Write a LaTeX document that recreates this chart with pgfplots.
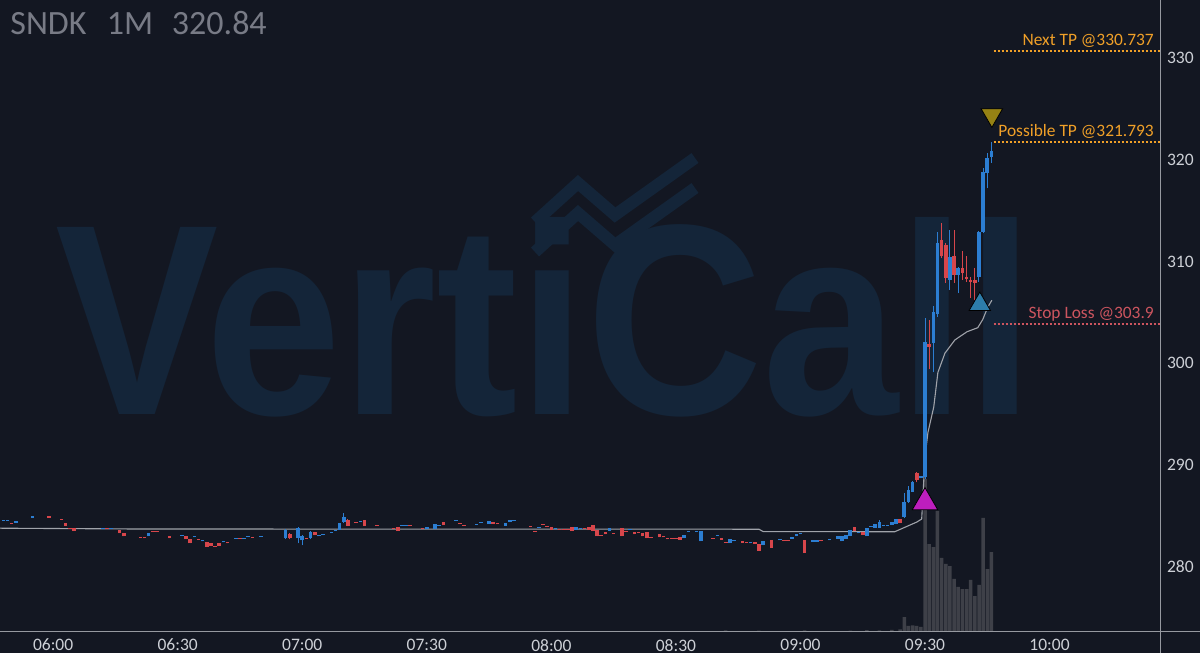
\documentclass[border=0pt]{standalone}
\usepackage{fontspec}
\setmainfont{Carlito}
\newfontfamily\wmfont{Liberation Sans}
\usepackage{pgfplots}
\usepackage{pgfplotstable}
\pgfplotsset{compat=1.18}

\definecolor{bgcol}{RGB}{19,23,34}
\definecolor{wmcol}{RGB}{20,37,57}
\definecolor{upcol}{RGB}{44,126,210}
\definecolor{dncol}{RGB}{215,70,75}
\definecolor{volcol}{RGB}{62,64,72}
\definecolor{vwapcol}{RGB}{160,163,170}
\definecolor{axcol}{RGB}{150,153,160}
\definecolor{labcol}{RGB}{205,208,214}
\definecolor{titlecol}{RGB}{120,123,134}
\definecolor{tpcol}{RGB}{240,160,40}
\definecolor{slcol}{RGB}{205,85,95}
\definecolor{buycol}{RGB}{190,30,190}
\definecolor{tricol}{RGB}{45,125,170}
\definecolor{sellcol}{RGB}{150,130,20}

% minutes after 06:00, open, high, low, close
\pgfplotstableread{
t o h l c
-12 284.55 284.65 284.55 284.65
-11 284.55 284.65 284.55 284.65
-9 284.35 284.50 284.35 284.50
-5 284.80 285.00 284.80 285.00
12 283.75 283.85 283.75 283.85
14 283.75 283.85 283.75 283.85
23 283.00 283.30 283.00 283.30
31 283.05 283.15 283.05 283.15
34 282.90 283.00 282.90 283.00
36 282.50 282.60 282.50 282.60
41 282.40 282.50 282.40 282.50
44 282.75 282.85 282.75 282.85
46 282.75 282.85 282.75 282.85
47 282.95 283.05 282.95 283.05
50 282.95 283.05 282.95 283.05
56 282.80 283.70 282.70 283.60
59 282.80 283.90 282.30 283.80
60 282.60 283.10 282.10 283.00
62 282.80 283.50 282.70 283.40
64 283.00 283.10 283.00 283.10
65 283.10 283.20 283.10 283.20
67 283.35 283.45 283.35 283.45
68 283.55 283.65 283.55 283.65
69 283.60 284.30 283.60 284.30
70 284.40 285.30 284.30 284.90
74 284.45 284.55 284.45 284.55
84 284.05 284.15 284.05 284.15
85 284.05 284.15 284.05 284.15
90 283.70 283.90 283.70 283.90
92 283.70 284.20 283.70 284.20
93 284.05 284.15 284.05 284.15
97 284.55 284.65 284.55 284.65
102 284.15 284.25 284.15 284.25
103 284.35 284.45 284.35 284.45
105 284.20 284.50 284.20 284.50
109 284.00 284.30 284.00 284.30
110 284.40 284.60 284.40 284.60
111 284.55 284.65 284.55 284.65
117 283.85 283.95 283.85 283.95
121 283.75 283.85 283.75 283.85
126 283.60 283.90 283.60 283.90
127 283.75 283.85 283.75 283.85
134 283.50 283.80 283.50 283.80
139 283.65 283.75 283.65 283.75
152 282.80 283.10 282.80 283.10
153 283.45 283.55 283.45 283.55
155 283.45 283.55 283.45 283.55
156 282.50 283.50 282.50 283.50
160 283.05 283.15 283.05 283.15
163 282.30 282.70 282.30 282.70
164 282.50 282.60 282.50 282.60
168 282.30 282.40 282.30 282.40
171 282.10 282.50 282.10 282.50
175 282.60 282.70 282.60 282.70
178 282.75 282.95 282.75 282.95
179 283.00 283.25 283.00 283.25
180 283.20 283.30 283.20 283.30
183 282.45 282.65 282.45 282.65
184 282.45 282.65 282.45 282.65
187 282.60 282.70 282.60 282.70
189 282.75 283.00 282.75 283.00
190 282.50 283.00 282.50 283.00
191 282.75 283.10 282.75 283.10
192 283.00 283.60 283.00 283.60
194 283.30 283.40 283.30 283.40
196 283.00 283.80 283.00 283.80
197 283.90 284.00 283.90 284.00
198 283.85 284.20 283.85 284.20
199 283.85 284.60 283.80 284.40
200 284.00 284.10 284.00 284.10
201 284.00 284.10 284.00 284.10
202 284.10 284.40 284.10 284.40
203 284.20 284.70 284.20 284.70
205 284.90 287.30 284.80 286.40
206 286.40 287.90 286.30 287.60
207 287.40 288.40 287.40 288.30
209 288.70 288.90 288.70 288.90
210 288.80 304.50 288.60 302.10
212 302.00 305.60 299.10 305.00
213 304.80 312.90 304.60 311.80
216 308.20 313.10 307.20 310.40
218 308.70 309.50 306.90 309.40
223 308.50 313.00 308.00 312.90
224 312.90 319.20 312.80 318.80
225 318.70 320.70 317.20 320.20
226 320.30 321.79 319.70 320.84
}\upcandles

\pgfplotstableread{
t o h l c
-10 284.35 284.35 284.25 284.25
-1 284.95 284.95 284.85 284.85
2 284.75 284.75 284.65 284.65
3 284.30 284.30 284.00 284.00
4 283.85 283.85 283.75 283.75
5 283.80 283.80 283.50 283.50
13 283.85 283.85 283.75 283.75
16 283.60 283.60 283.30 283.30
17 283.30 283.30 283.00 283.00
21 282.95 282.95 282.85 282.85
22 282.95 282.95 282.80 282.80
24 283.55 283.55 283.45 283.45
25 283.55 283.55 283.45 283.45
28 283.00 283.00 282.80 282.80
32 283.00 283.00 282.70 282.70
33 282.70 282.70 282.30 282.30
35 282.75 282.75 282.65 282.65
37 282.40 282.40 282.00 282.00
38 282.35 282.35 282.05 282.05
39 282.05 282.05 281.95 281.95
40 282.35 282.35 282.05 282.05
42 282.40 282.40 282.30 282.30
45 282.85 282.85 282.75 282.75
48 282.95 282.95 282.85 282.85
57 283.20 283.30 282.70 282.80
61 282.85 282.85 282.75 282.75
63 283.40 283.40 283.10 283.10
71 284.60 284.70 284.00 284.00
73 284.45 284.45 284.35 284.35
75 284.60 284.60 284.00 284.00
78 284.15 284.15 284.05 284.05
82 283.85 283.85 283.75 283.75
83 283.90 283.90 283.55 283.55
86 284.15 284.15 284.05 284.05
89 283.85 283.85 283.75 283.75
94 284.40 284.40 284.10 284.10
98 284.35 284.35 284.25 284.25
99 284.15 284.15 284.05 284.05
106 284.40 284.40 284.20 284.20
107 284.35 284.35 284.25 284.25
115 284.05 284.05 283.95 283.95
116 283.55 283.55 283.45 283.45
118 284.25 284.25 284.15 284.15
119 284.05 284.05 283.95 283.95
120 283.90 283.90 283.60 283.60
122 283.75 283.75 283.65 283.65
123 283.75 283.75 283.65 283.65
124 283.75 283.75 283.65 283.65
125 283.90 283.90 283.50 283.50
128 283.80 283.80 283.70 283.70
129 283.90 283.90 283.60 283.60
130 284.10 284.10 283.50 283.50
131 283.60 283.60 283.00 283.00
132 283.15 283.15 283.05 283.05
133 283.40 283.40 283.20 283.20
135 283.35 283.35 283.25 283.25
137 283.80 283.80 283.00 283.00
138 283.55 283.55 283.45 283.45
140 283.40 283.40 283.20 283.20
141 283.45 283.45 283.35 283.35
142 283.30 283.30 283.00 283.00
143 283.40 283.40 282.80 282.80
144 282.90 282.90 282.80 282.80
146 283.20 283.20 282.90 282.90
147 283.00 283.00 282.90 282.90
148 282.80 282.80 282.70 282.70
149 282.85 282.85 282.75 282.75
150 282.85 282.85 282.75 282.75
151 282.95 282.95 282.65 282.65
159 282.85 282.85 282.75 282.75
161 282.85 282.85 282.65 282.65
162 282.45 282.45 282.35 282.35
166 282.55 282.55 282.35 282.35
167 282.45 282.45 282.35 282.35
169 282.45 282.45 282.25 282.25
170 282.20 282.20 281.60 281.60
173 282.60 282.60 281.90 281.90
176 282.65 282.65 282.55 282.55
177 282.65 282.65 282.55 282.55
181 282.60 282.60 281.40 281.40
185 282.60 282.60 282.50 282.50
193 283.90 283.90 283.50 283.50
195 283.40 283.40 283.15 283.15
204 284.70 284.70 284.30 284.30
208 289.20 289.30 288.30 288.50
211 301.90 304.30 299.40 301.60
214 312.10 313.80 310.30 310.50
215 311.60 311.80 307.90 308.40
217 310.50 313.10 307.90 308.70
219 309.40 311.00 308.20 308.90
220 308.50 310.50 308.00 308.30
221 308.20 308.50 306.40 308.00
222 308.20 309.40 306.20 307.90
}\downcandles

\pgfplotsset{
  candle/.style 2 args={draw=none, mark=none,
    error bars/.cd, y dir=plus, y explicit, error mark=none,
    error bar style={draw=#1, line width=#2}},
}

\begin{document}
\begin{tikzpicture}
\useasboundingbox (0,-10.5pt) rectangle (600pt,316pt);
\fill[bgcol] (0,-10.5pt) rectangle (600pt,316pt);

% watermark
\node[anchor=base west, inner sep=0, text=wmcol, xscale=0.9,
  font=\wmfont\bfseries\fontsize{136}{136}\selectfont] at (27.5pt,108.5pt) {VertiCall};
\draw[wmcol, line width=6pt] (267.5pt,205pt) -- (289pt,224.5pt) -- (307.5pt,208.5pt) -- (347.5pt,237pt);
\draw[wmcol, line width=6pt] (267.5pt,190pt) -- (289pt,209.5pt) -- (307.5pt,193.5pt) -- (347.5pt,222pt);

% volume
\begin{axis}[
  at={(0,0)}, anchor=south west,
  scale only axis, width=580pt, height=316pt,
  xmin=-12.8, xmax=266.6, ymin=0, ymax=250,
  hide axis,
]
\addplot[ybar, bar width=1.75pt, bar shift=0pt, fill=volcol, draw=none] coordinates {
  (162,0.6) (170,0.5) (181,0.6) (192,0.5) (196,0.7) (199,0.6) (202,0.8)
  (204,1.0) (205,5.9) (206,2.4) (207,2.6) (208,2.4) (209,2.0)
  (210,60.5) (211,34.8) (212,33.6) (213,47.9) (214,29.3) (215,26.9)
  (216,26.1) (217,21.0) (218,17.8) (219,17.0) (220,17.0) (221,20.6)
  (222,14.2) (223,18.6) (224,45.1) (225,24.9) (226,31.6)
};
\end{axis}

% price
\begin{axis}[
  at={(0,0)}, anchor=south west,
  scale only axis, width=580pt, height=316pt,
  xmin=-12.8, xmax=266.6, ymin=273.6, ymax=335.7,
  axis x line*=bottom, axis y line*=right,
  axis line style={draw=none},
  xtick={0,30,...,240},
  xticklabels={06:00,06:30,07:00,07:30,08:00,08:30,09:00,09:30,10:00},
  ytick={280,290,...,330},
  major tick length=0pt,
  tick label style={font=\fontsize{8.75}{10}\selectfont, text=labcol},
  /pgf/number format/assume math mode=true,
  y tick label style={anchor=west},
]
% VWAP
\addplot[vwapcol, line width=0.55pt] coordinates {
  (-12.8,283.80) (20,283.72) (170,283.70) (171,283.47) (202.7,283.45)
  (208,284.40) (209.2,284.70) (210,290.8) (210.7,293.2) (212.1,295.7)
  (213.1,299.1) (214.8,301.0) (217.2,302.3) (220.1,303.1) (222.7,303.5)
  (223.9,304.3) (225.1,305.5) (226.1,306.2)
};
% wicks
\addplot[candle={upcol}{0.5pt}]
  table[x=t, y=l, y error expr=\thisrow{h}-\thisrow{l}] {\upcandles};
\addplot[candle={dncol}{0.5pt}]
  table[x=t, y=l, y error expr=\thisrow{h}-\thisrow{l}] {\downcandles};
% bodies
\addplot[candle={upcol}{1.8pt}]
  table[x=t, y=o, y error expr=\thisrow{c}-\thisrow{o}] {\upcandles};
\addplot[candle={dncol}{1.8pt}]
  table[x=t, y=c, y error expr=\thisrow{o}-\thisrow{c}] {\downcandles};

% levels
\addplot[tpcol, line width=1pt, dash pattern=on 1pt off 1pt] coordinates {(226.5,330.737) (266.6,330.737)};
\addplot[tpcol, line width=1pt, dash pattern=on 1pt off 1pt] coordinates {(226.5,321.793) (266.6,321.793)};
\addplot[slcol, line width=1pt, dash pattern=on 1pt off 1pt] coordinates {(226.5,303.9) (266.6,303.9)};
\node[anchor=base east, inner sep=0, text=tpcol, font=\fontsize{8.7}{10}\selectfont, yshift=2.3pt]
  at (axis cs:265.2,330.737) {Next TP @330.737};
\node[anchor=base east, inner sep=0, text=tpcol, font=\fontsize{8.7}{10}\selectfont, yshift=2.5pt]
  at (axis cs:265.2,321.793) {Possible TP @321.793};
\node[anchor=base east, inner sep=0, text=slcol, font=\fontsize{8.7}{10}\selectfont, yshift=2.8pt]
  at (axis cs:265.2,303.9) {Stop Loss @303.9};

% signals
\addplot[only marks, mark=triangle*, mark size=7.4pt, mark options={fill=buycol, draw=none}] coordinates {(210,286.33)};
\addplot[only marks, mark=triangle*, mark size=6.2pt, mark options={fill=tricol, draw=none}] coordinates {(223.2,305.79)};
\addplot[only marks, mark=triangle*, mark size=6.2pt, mark options={fill=sellcol, draw=none, rotate=180}] coordinates {(226.1,324.4)};
\end{axis}

% axis lines
\draw[axcol, line width=0.5pt] (0,0) -- (600pt,0);
\draw[axcol, line width=0.5pt] (580pt,-10.5pt) -- (580pt,316pt);

% title
\node[anchor=base west, inner sep=0, text=titlecol, font=\fontsize{17}{20}\selectfont]
  at (5pt,298.5pt) {SNDK\hspace{0.6em}1M\hspace{0.55em}320.84};
\end{tikzpicture}
\end{document}
